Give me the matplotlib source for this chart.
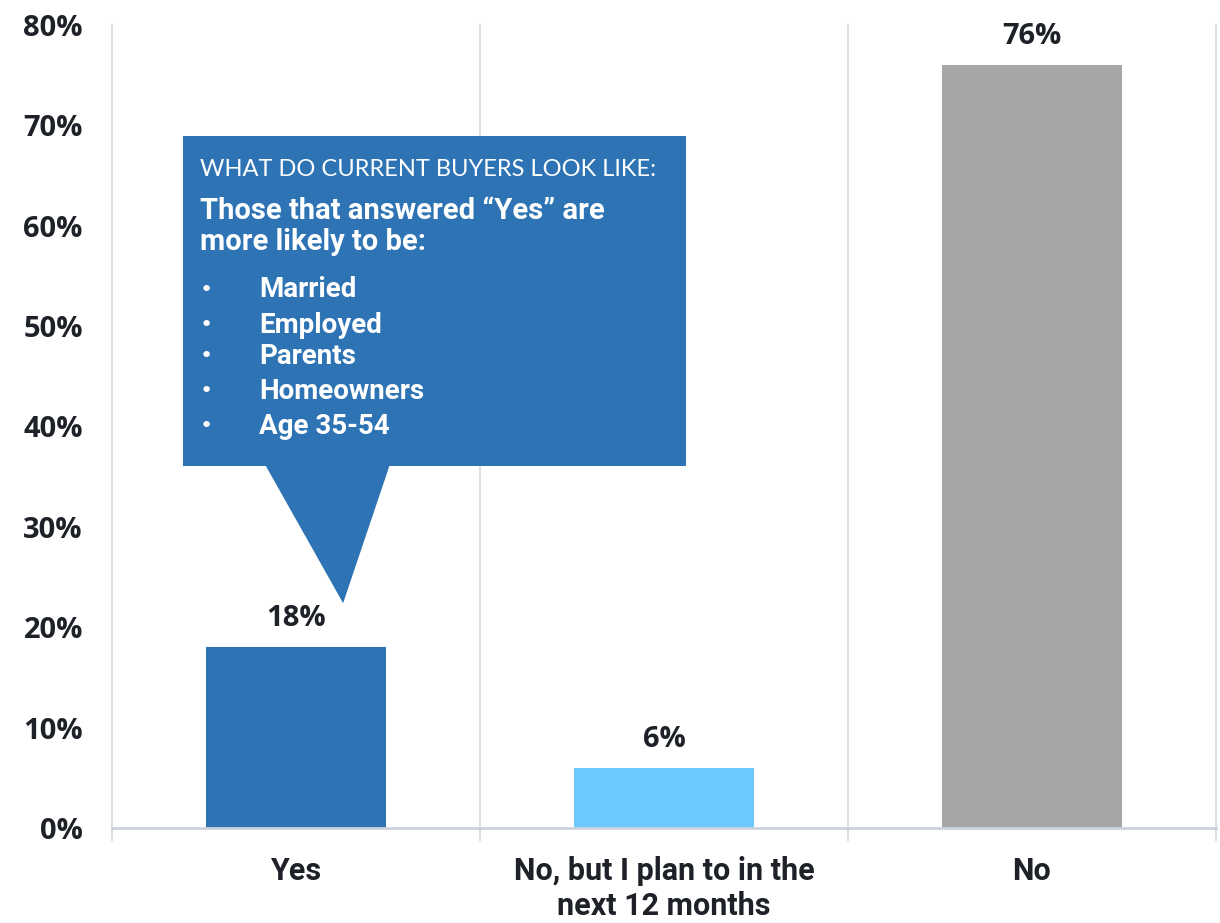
import matplotlib
matplotlib.use('Agg')
import matplotlib.pyplot as plt
from matplotlib.patches import Rectangle, Polygon

categories = ['Yes', 'No, but I plan to in the\nnext 12 months', 'No']
shares = [18, 6, 76]
bar_colors = ['#2E74B5', '#6DC8FE', '#A6A6A6']
yticks = [0, 10, 20, 30, 40, 50, 60, 70, 80]

callout_head = 'WHAT DO CURRENT BUYERS LOOK LIKE:'
callout_lead = 'Those that answered \u201cYes\u201d are\nmore likely to be:'
callout_items = ['Married', 'Employed', 'Parents', 'Homeowners', 'Age 35-54']

ink = '#1E2228'
grid = '#D9DFE8'

fig = plt.figure(figsize=(12.2, 9.23), dpi=100)
ax = fig.add_axes([112 / 1220, 1 - 828 / 923, 1104 / 1220, 803 / 923])

xs = range(len(categories))
ax.bar(xs, shares, width=0.49, color=bar_colors, zorder=3)
for x, v in zip(xs, shares):
    ax.text(x, v + 1.4, f'{v}%', ha='center', va='bottom',
            fontsize=21, fontweight='bold', family='Open Sans', color=ink)

ax.set_xlim(-0.5, 2.5)
ax.set_ylim(0, 80)
ax.set_yticks(yticks)
ax.set_yticklabels([f'{t}%' for t in yticks], fontsize=21,
                   fontweight='bold', family='Open Sans', color=ink)
ax.set_xticks(list(xs))
ax.set_xticklabels(categories, fontsize=22, fontweight='bold',
                   family='Roboto', color=ink, linespacing=1.2)
ax.tick_params(axis='y', length=0, pad=21)
ax.tick_params(axis='x', length=0, pad=20)

for s in ['top', 'right', 'left']:
    ax.spines[s].set_visible(False)
ax.spines['bottom'].set_color('#CDD3DC')
ax.spines['bottom'].set_linewidth(2)
ax.spines['bottom'].set_zorder(4)

# separators between the categories, running slightly below the baseline
for b in [-0.5, 0.5, 1.5, 2.5]:
    ax.plot([b, b], [-1.2, 80], color=grid, lw=1.5, zorder=1, clip_on=False)

# callout box pointing at the "Yes" bar
box_x0, box_x1 = -0.307, 1.060
box_y0, box_y1 = 36.1, 68.9
callout_blue = '#2E74B5'
ax.add_patch(Rectangle((box_x0, box_y0), box_x1 - box_x0, box_y1 - box_y0,
                       facecolor=callout_blue, edgecolor='none', zorder=5))
ax.add_patch(Polygon([(-0.084, box_y0 + 0.1), (0.255, box_y0 + 0.1), (0.128, 22.4)],
                     closed=True, facecolor=callout_blue, edgecolor='none', zorder=5))

tx = box_x0 + 0.046
ax.text(tx, 65.6, callout_head, ha='left', va='center', color='white',
        fontsize=17, family='Lato', zorder=6)
ax.text(tx, 59.9, callout_lead, ha='left', va='center', color='white',
        fontsize=21, fontweight='bold', family='Roboto', linespacing=1.15,
        zorder=6)
item_y = [53.6, 50.1, 47.0, 43.5, 40.0]
for y, item in zip(item_y, callout_items):
    ax.text(tx, y, '\u2022', ha='left', va='center', color='white',
            fontsize=16, family='DejaVu Sans', zorder=6)
    ax.text(tx + 0.16, y, item, ha='left', va='center', color='white',
            fontsize=20, fontweight='bold', family='Roboto', zorder=6)

fig.savefig('out.png', dpi=100, facecolor='white')
